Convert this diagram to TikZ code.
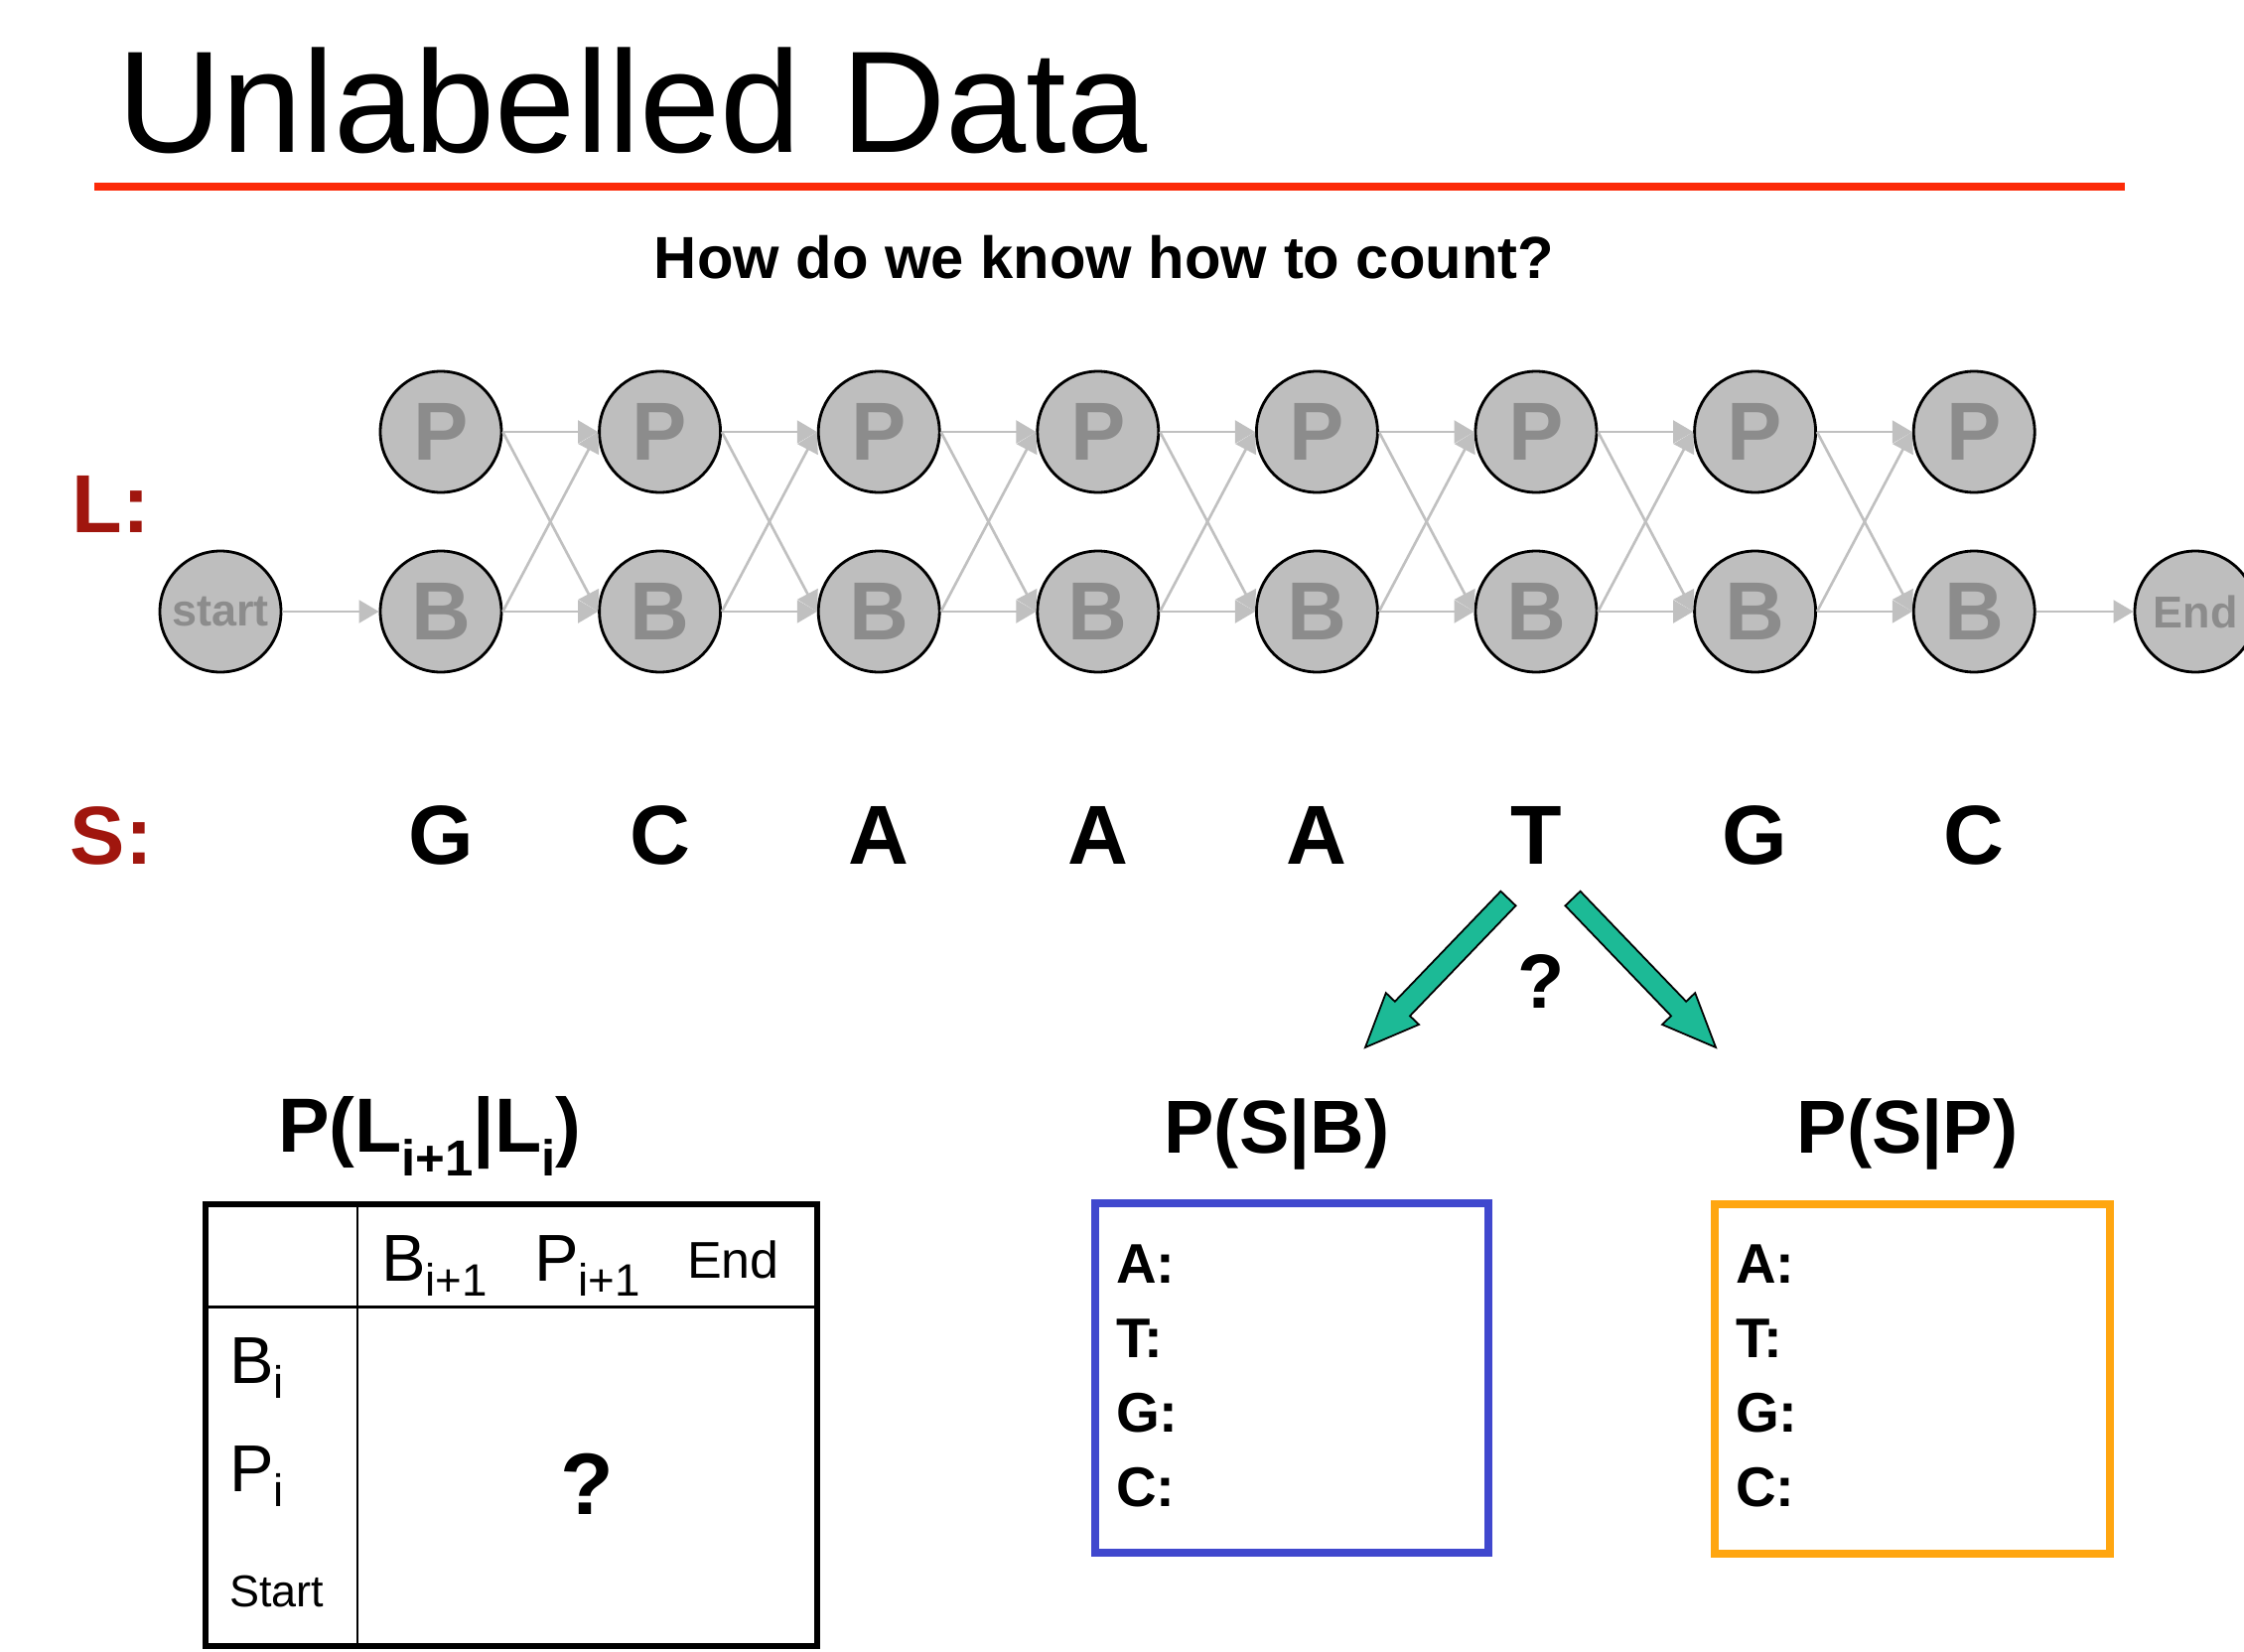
\documentclass[tikz,border=0pt]{standalone}
\usepackage{fontspec}
\setmainfont{Liberation Sans}
\usetikzlibrary{arrows.meta,calc}
\definecolor{nodegray}{RGB}{190,190,190}
\definecolor{lettergray}{RGB}{140,140,140}
\definecolor{edgegray}{RGB}{192,192,192}
\definecolor{labelred}{RGB}{160,22,14}
\definecolor{rulered}{RGB}{252,42,8}
\definecolor{arrowgreen}{RGB}{28,186,150}
\definecolor{boxblue}{RGB}{64,72,206}
\definecolor{boxorange}{RGB}{255,166,16}
\newcommand{\fatarrow}[2]{%
  \coordinate (#1base) at ($(#2)!5.4mm!(#1)$);
  \draw[fatarrowstyle]
    ($(#1)!1.05mm!90:(#2)$) --
    ($(#1base)!1.05mm!-90:(#1)$) --
    ($(#1base)!2.3mm!-90:(#1)$) --
    (#2) --
    ($(#1base)!2.3mm!90:(#1)$) --
    ($(#1base)!1.05mm!90:(#1)$) --
    ($(#1)!1.05mm!-90:(#2)$) -- cycle;}
\newcommand{\sbs}[2]{\raisebox{-#1}{\fontsize{13}{13}\selectfont #2}}
\begin{document}
\begin{tikzpicture}[x=0.1mm,y=-0.1mm,
  state/.style={circle, draw=black, line width=0.8pt, fill=nodegray,
    minimum size=12.2mm, inner sep=0pt, text=lettergray,
    font=\fontsize{23.6}{23.6}\selectfont\bfseries},
  endstate/.style={state, font=\fontsize{12.8}{12.8}\selectfont\bfseries},
  trans/.style={draw=edgegray, line width=0.75pt,
    -{Triangle[length=5.7pt,width=6.5pt]}},
  txt/.style={inner sep=0pt, outer sep=0pt},
  seqletter/.style={txt, anchor=base, font=\fontsize{24}{24}\selectfont\bfseries},
  rowlabel/.style={txt, anchor=base west, text=labelred,
    font=\fontsize{23.6}{23.6}\selectfont\bfseries},
  probtitle/.style={txt, anchor=base, font=\fontsize{21.5}{21.5}\selectfont\bfseries},
  emitlabel/.style={txt, anchor=base west, font=\fontsize{16}{16}\selectfont\bfseries},
  tabhead/.style={txt, anchor=base west, font=\fontsize{19}{19}\selectfont},
  fatarrowstyle/.style={fill=arrowgreen, draw=black, line width=0.5pt, line join=miter}
]
\useasboundingbox (0,0) rectangle (2260,1664);
\fill[white] (0,0) rectangle (2260,1664);

% title
\node[txt, anchor=base west, font=\fontsize{41.5}{41.5}\selectfont] (title) at (118,153) {Unlabelled Data};
\draw[rulered, line width=2.3pt] (95,188) -- (2140,188);
\node[txt, anchor=base, font=\fontsize{17}{17}\selectfont\bfseries] (question) at (1112,280) {How do we know how to count?};

% states
\foreach \i in {0,...,7} {
  \node[state] (P\i) at ({444+220.6*\i},435) {P};
  \node[state] (B\i) at ({444+220.6*\i},616) {B};
}
\node[endstate] (start) at (222,616) {start};
\node[endstate] (end) at (2211,616) {End};

% transitions
\draw[trans] (start.east) -- (B0.west);
\foreach \i [count=\j from 1] in {0,...,6} {
  \draw[trans] (P\i.east) -- (P\j.west);
  \draw[trans] (B\i.east) -- (B\j.west);
  \draw[trans] (P\i.east) -- (B\j.west);
  \draw[trans] (B\i.east) -- (P\j.west);
}
\draw[trans] (B7.east) -- (end.west);

% row labels
\node[rowlabel] (Llab) at (73,536) {L:};
\node[rowlabel] (Slab) at (71,870) {S:};

% sequence
\foreach \s [count=\k from 0] in {G,C,A,A,A,T,G,C}
  \node[seqletter] (s\k) at ({444+220.6*\k},870) {\s};

% green arrows
\coordinate (tailL) at (1519,905);
\coordinate (tipL) at (1375,1055);
\coordinate (tailR) at (1584,905);
\coordinate (tipR) at (1728,1055);
\fatarrow{tailL}{tipL}
\fatarrow{tailR}{tipR}
\node[txt, anchor=base, font=\fontsize{22}{22}\selectfont\bfseries] (qmark) at (1552,1015) {?};

% transition table
\node[txt, anchor=base west, font=\fontsize{22}{22}\selectfont\bfseries] (ttitle) at (280,1160)
  {P(L\raisebox{-7pt}{\fontsize{14.5}{14.5}\selectfont i+1}|L\raisebox{-7pt}{\fontsize{14.5}{14.5}\selectfont i})};
\draw[line width=0.85pt] (360,1213) -- (360,1658);
\draw[line width=0.85pt] (207,1316) -- (823,1316);
\draw[line width=1.7pt] (207,1213) rectangle (823,1658);
\node[tabhead] (hB) at (384,1290) {B\sbs{4.3pt}{i+1}};
\node[tabhead] (hP) at (538,1290) {P\sbs{4.3pt}{i+1}};
\node[txt, anchor=base west, font=\fontsize{14.8}{14.8}\selectfont] (hEnd) at (692,1287) {End};
\node[tabhead] (rB) at (231,1393) {B\sbs{4.3pt}{i}};
\node[tabhead] (rP) at (231,1502) {P\sbs{4.3pt}{i}};
\node[txt, anchor=base west, font=\fontsize{12.8}{12.8}\selectfont] (rStart) at (231,1618) {Start};
\node[txt, anchor=base, font=\fontsize{25}{25}\selectfont\bfseries] (tq) at (591,1525) {?};

% emission boxes
\node[probtitle] (psb) at (1286,1161) {P(S|B)};
\node[probtitle] (psp) at (1921,1161) {P(S|P)};
\draw[boxblue, line width=2pt] (1103,1212) rectangle (1499,1564);
\draw[boxorange, line width=2.3pt] (1727,1213) rectangle (2125,1565);
\foreach \l/\y in {A/1292,T/1367,G/1442,C/1517} {
  \node[emitlabel] (b\l) at (1124,\y) {\l:};
  \node[emitlabel] (o\l) at (1748,\y) {\l:};
}
\end{tikzpicture}
\end{document}
